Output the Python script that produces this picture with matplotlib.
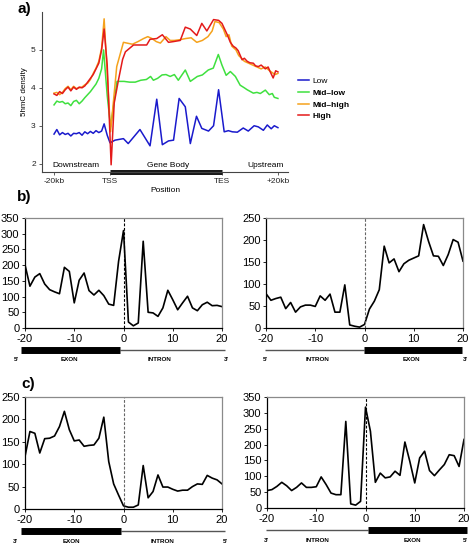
import numpy as np
import matplotlib.pyplot as plt
from matplotlib import transforms

plt.rcParams['font.family'] = ['Liberation Sans', 'DejaVu Sans']
plt.rcParams['axes.unicode_minus'] = False

# ---- panel a: 5hmC density profile (bins: -20kb=0, TSS=20, TES=60, +20kb=80)
low_x = [0, 1, 2, 3, 4, 5, 6, 7, 8, 9, 10, 11, 12, 13, 14, 15, 16, 17, 17.9, 19, 20,
         21.8, 24.8, 26.5, 30.7, 34.3, 36.7, 38.7, 40.9, 42.7, 44.7, 46.9, 48.7, 50.9,
         52.8, 55.2, 57, 58.8, 60.8, 62.3, 63.7, 65.5, 67.6, 69.4, 71.5, 73, 74.8, 76.2,
         77.6, 78.7, 80]
low_y = [2.78, 2.9, 2.76, 2.82, 2.77, 2.8, 2.73, 2.8, 2.79, 2.82, 2.75, 2.84, 2.79, 2.85,
         2.8, 2.87, 2.82, 2.86, 3.05, 2.75, 2.55,
         2.62, 2.66, 2.53, 2.9, 2.47, 3.7, 2.5, 2.6, 2.62, 3.72, 3.5, 2.53, 3.25,
         2.93, 2.86, 3.0, 3.95, 2.84, 2.87, 2.84, 2.83, 2.94, 2.86, 3.0, 2.97, 2.88, 3.02,
         2.92, 3.0, 2.95]

midlow_x = [0, 1, 2, 3, 4, 5, 6, 7, 8, 9, 10, 11, 12, 13, 14, 15, 16, 17, 17.7, 19, 20.2,
            22.5, 25, 27, 29, 31, 33, 34.5, 35.5, 37, 38.6, 40, 41.5, 43, 44.4, 46.9, 48.7,
            51.2, 53, 55.1, 56.9, 58.7, 60, 61.5, 63, 64.8, 66.5, 68, 69, 71.2, 72.5, 73.7,
            75.5, 76.9, 78, 78.7, 80]
midlow_y = [3.55, 3.65, 3.62, 3.64, 3.58, 3.6, 3.53, 3.64, 3.67, 3.58, 3.65, 3.74, 3.82,
            3.9, 4.0, 4.1, 4.25, 4.5, 5.0, 3.8, 2.97,
            4.17, 4.17, 4.15, 4.15, 4.2, 4.22, 4.3, 4.2, 4.25, 4.34, 4.35, 4.3, 4.35, 4.2,
            4.47, 4.17, 4.3, 4.34, 4.47, 4.52, 4.88, 4.6, 4.33, 4.43, 4.3, 4.07, 4.0, 3.95,
            3.86, 3.88, 3.85, 3.94, 3.82, 3.85, 3.75, 3.72]

midhigh_x = [0, 1, 2, 3, 4, 5, 6, 7, 8, 9, 10, 11, 12, 13, 14, 15, 16, 17, 17.9, 19, 20.2,
             22.4, 24.8, 28, 30, 32, 33.5, 35, 36.5, 38, 40, 41.5, 43, 45, 47, 49, 51, 53,
             55, 56.5, 57.5, 59, 60.5, 61.5, 62.5, 63.5, 65, 66, 67, 68, 69.5, 71, 72.5, 74,
             75.5, 77, 78, 79, 80]
midhigh_y = [3.86, 3.88, 3.82, 3.88, 3.98, 4.04, 3.95, 4.04, 3.98, 4.0, 4.02, 4.08, 4.12,
             4.22, 4.38, 4.52, 4.7, 5.05, 5.82, 4.4, 2.84,
             4.56, 5.2, 5.15, 5.22, 5.3, 5.35, 5.3, 5.22, 5.18, 5.35, 5.25, 5.25, 5.27, 5.3,
             5.32, 5.2, 5.25, 5.35, 5.5, 5.75, 5.72, 5.55, 5.35, 5.4, 5.1, 5.0, 4.85, 4.78,
             4.7, 4.65, 4.6, 4.55, 4.5, 4.55, 4.45, 4.4, 4.35, 4.38]

high_x = [0, 1, 2, 3, 4, 5, 6, 7, 8, 9, 10, 11, 12, 13, 14, 15, 16, 17, 17.9, 19, 20.4,
          21.5, 23, 24.5, 25.5, 28.4, 33.1, 34.3, 36.7, 38.7, 40.9, 42.7, 45.1, 46.9, 48.7,
          51, 52.8, 54.6, 57, 58.8, 60, 61.9, 63, 64, 65, 65.8, 67.2, 68, 69, 70, 71.2, 72,
          73, 74, 75.5, 76.5, 77.2, 78.3, 79.2, 80]
high_y = [3.84, 3.8, 3.9, 3.85, 3.95, 4.02, 3.92, 4.02, 3.96, 4.02, 4.0, 4.05, 4.15, 4.25,
          4.35, 4.5, 4.65, 5.0, 5.55, 4.6, 1.97,
          3.6, 4.2, 4.75, 4.95, 5.13, 5.13, 5.28, 5.3, 5.4, 5.2, 5.22, 5.25, 5.6, 5.55,
          5.38, 5.7, 5.5, 5.8, 5.78, 5.7, 5.4, 5.2, 5.1, 5.05, 4.98, 4.74, 4.78, 4.7, 4.66,
          4.65, 4.58, 4.56, 4.6, 4.5, 4.55, 4.43, 4.26, 4.45, 4.42]

a_ticks = [0, 20, 60, 80]
a_ticklabels = ['-20kb', 'TSS', 'TES', '+20kb']

# ---- panels b and c: profiles around the splice site
pos = list(range(-20, 21))
b_left = [201, 133, 162, 173, 140, 122, 115, 109, 193, 180, 80, 152, 175, 119, 105, 120,
          103, 76, 72, 212, 310, 19, 7, 16, 276, 50, 48, 37, 64, 120, 90, 58, 80, 101, 64,
          55, 74, 82, 71, 72, 68]
b_right = [78, 63, 67, 70, 44, 58, 36, 48, 52, 52, 49, 73, 63, 77, 36, 36, 98, 7, 4, 2, 8,
           43, 61, 87, 186, 148, 157, 128, 146, 154, 159, 164, 235, 197, 164, 163, 142, 167,
           201, 195, 152]
c_left = [117, 173, 169, 125, 157, 158, 163, 184, 218, 177, 152, 154, 140, 142, 143, 158,
          205, 106, 56, 31, 7, 4, 4, 9, 97, 25, 39, 76, 49, 49, 44, 40, 42, 42, 50, 56, 55,
          75, 69, 65, 56]
c_right = [55, 58, 68, 81, 70, 55, 65, 79, 65, 65, 67, 98, 74, 47, 42, 42, 273, 13, 9, 21,
           318, 242, 81, 110, 95, 98, 116, 103, 208, 147, 79, 158, 179, 118, 102, 120, 137,
           168, 165, 131, 216]

W, H = 469, 543
fig = plt.figure(figsize=(W / 100, H / 100), dpi=100)


def px_axes(l, t, r, b):
    return fig.add_axes([l / W, 1 - b / H, (r - l) / W, (b - t) / H])


# ---------------- panel a
ax = px_axes(42, 12, 288, 172)
ax.plot(low_x, low_y, color='#1a1acc', lw=1.1, label='Low')
ax.plot(midlow_x, midlow_y, color='#3fe03f', lw=1.1, label='Mid–low')
ax.plot(midhigh_x, midhigh_y, color='#f5a21c', lw=1.1, label='Mid–high')
ax.plot(high_x, high_y, color='#e41a1a', lw=1.1, label='High')
ax.set_xlim(-4.3, 83.6)
ax.set_ylim(1.78, 6.0)
ax.set_yticks([2, 3, 4, 5])
ax.set_xticks(a_ticks)
ax.set_xticklabels(a_ticklabels)
for s in ['top', 'right']:
    ax.spines[s].set_visible(False)
for s in ['left', 'bottom']:
    ax.spines[s].set_color('#444444')
    ax.spines[s].set_linewidth(0.8)
ax.tick_params(labelsize=6, length=2.5, width=0.6, color='#444444', labelcolor='#222222', pad=2)
ax.set_ylabel('5hmC density', fontsize=5.8, labelpad=2)
ax.set_xlabel('Position', fontsize=6, labelpad=1)
ax.plot([20, 60], [1.78, 1.78], color='#1a1a1a', lw=3.6, solid_capstyle='butt', clip_on=False)
tr = transforms.blended_transform_factory(ax.transData, ax.transAxes)
ax.text(-0.6, 0.04, 'Downstream', transform=tr, fontsize=6, ha='left', va='center')
ax.text(40.8, 0.04, 'Gene Body', transform=tr, fontsize=6, ha='center', va='center')
ax.text(82.0, 0.04, 'Upstream', transform=tr, fontsize=6, ha='right', va='center')
leg = ax.legend(loc='upper left', bbox_to_anchor=(290 / W, 1 - 70 / H),
                bbox_transform=fig.transFigure, frameon=False, fontsize=6,
                handlelength=1.4, handletextpad=0.4, labelspacing=0.45)
for t in leg.get_texts()[1:]:
    t.set_fontweight('bold')
fig.text(24 / W, 1 - 9 / H, 'a)', fontsize=11, fontweight='bold', ha='center', va='center')


# ---------------- panels b, c
def splice_panel(box, y, ymax, thick, thin, labels, label_x, dash_color):
    ax = px_axes(*box)
    ax.plot(pos, y, color='black', lw=1.2)
    ax.axvline(0, color=dash_color, lw=0.8, ls=(0, (2.5, 1.5)))
    ax.set_xlim(-20, 20)
    ax.set_ylim(0, ymax)
    ax.set_xticks([-20, -10, 0, 10, 20])
    ax.set_yticks(np.arange(0, ymax + 1, 50))
    ax.tick_params(labelsize=8, length=2, width=0.6, pad=2)
    ax.spines['top'].set_color('#8a8a8a')
    ax.spines['right'].set_color('#8a8a8a')
    for s in ['left', 'bottom']:
        ax.spines[s].set_color('black')
    for s in ax.spines.values():
        s.set_linewidth(0.9)
    tr = transforms.blended_transform_factory(ax.transData, ax.transAxes)
    ax.plot(thin, [-0.2, -0.2], color='#555555', lw=1.0, transform=tr, clip_on=False,
            solid_capstyle='butt')
    ax.plot(thick, [-0.2, -0.2], color='black', lw=5.0, transform=tr, clip_on=False,
            solid_capstyle='butt')
    for lab, lx in zip(labels, label_x):
        ax.text(lx, -0.29, lab, transform=tr, fontsize=4.5, fontweight='bold',
                ha='center', va='center')
    return ax


splice_panel((25, 218, 222, 328), b_left, 350, [-20.8, -0.7], [-0.7, 20.6],
             ["5'", 'EXON', 'INTRON', "3'"], [-21.8, -10.9, 7.4, 20.8], 'black')
splice_panel((266, 218, 463, 328), b_right, 250, [-0.2, 19.8], [-20.2, -0.2],
             ["5'", 'INTRON', 'EXON', "3'"], [-20.2, -9.6, 9.6, 20.4], '#666666')
splice_panel((25, 397, 222, 509), c_left, 250, [-20.8, -0.6], [-0.6, 20.6],
             ["3'", 'EXON', 'INTRON', "5'"], [-22.0, -10.5, 8.0, 20.6], '#666666')
splice_panel((267, 397, 464, 508), c_right, 350, [0.5, 20.6], [-20.2, 0.5],
             ["3'", 'INTRON', 'EXON', "5'"], [-20.2, -9.8, 9.5, 20.2], 'black')

fig.text(24 / W, 1 - 197 / H, 'b)', fontsize=11, fontweight='bold', ha='center', va='center')
fig.text(28 / W, 1 - 384 / H, 'c)', fontsize=11, fontweight='bold', ha='center', va='center')

fig.savefig('out.png', dpi=100)
